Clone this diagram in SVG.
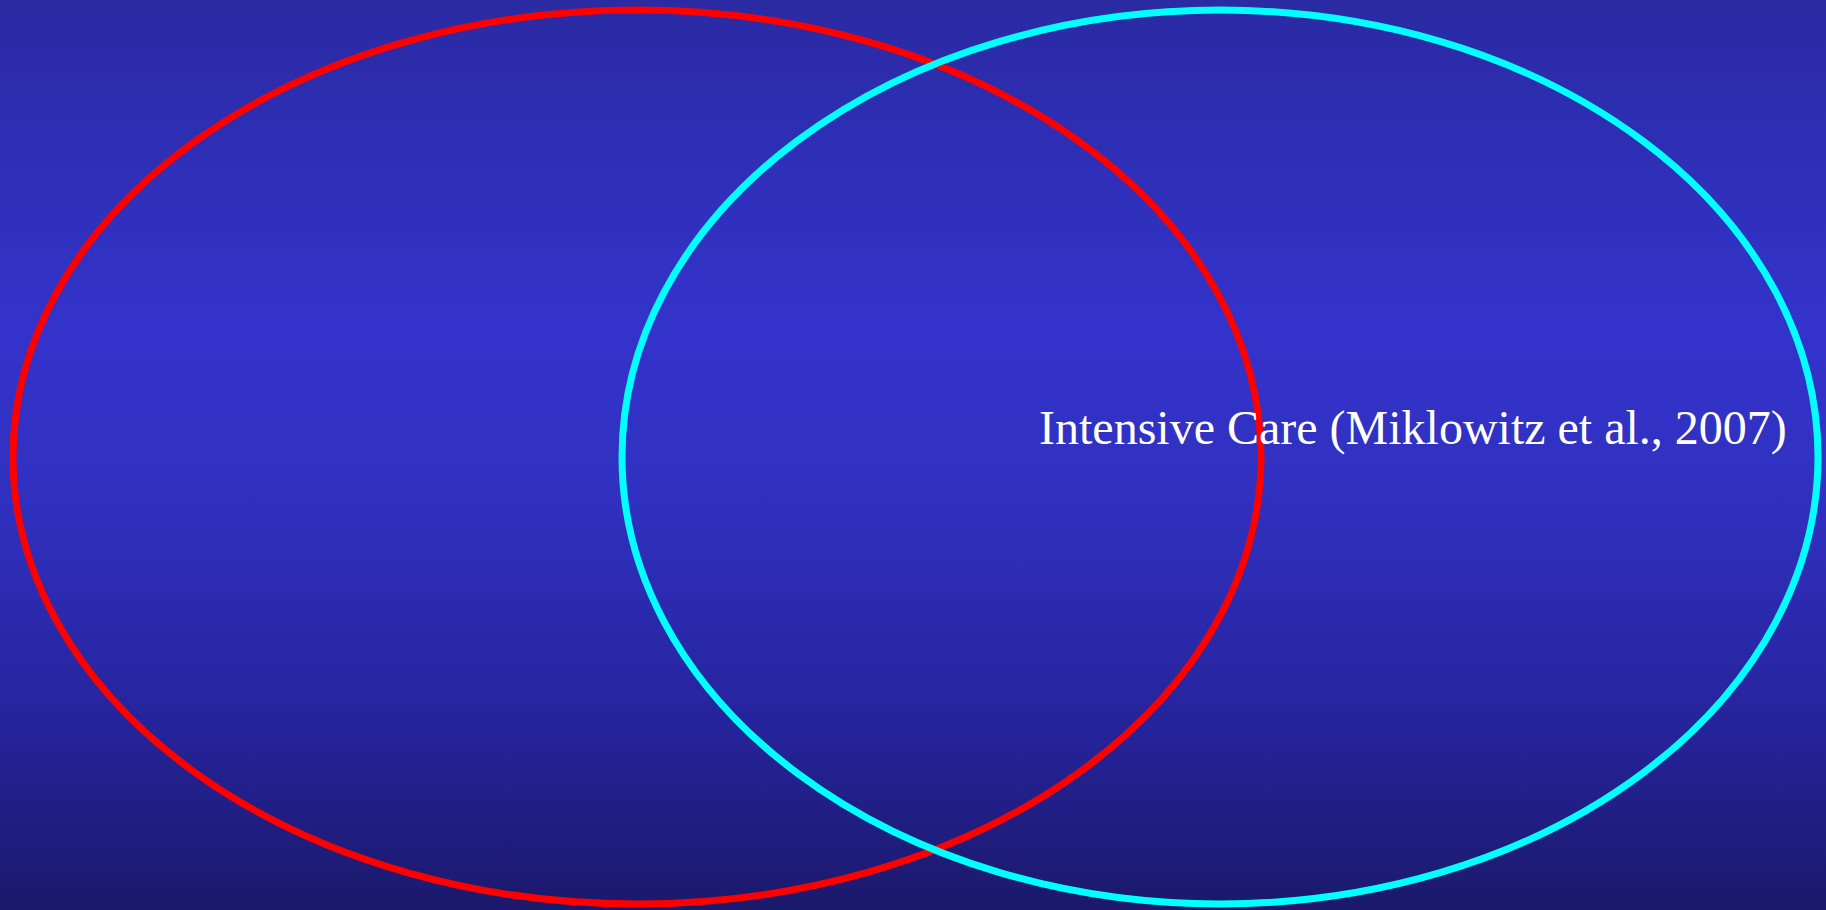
<svg xmlns="http://www.w3.org/2000/svg" width="1826" height="910" viewBox="0 0 1826 910">
  <defs>
    <linearGradient id="bg" x1="0" y1="0" x2="0" y2="1">
      <stop offset="0" stop-color="#2a2aa3"/>
      <stop offset="0.36" stop-color="#3333cc"/>
      <stop offset="0.55" stop-color="#3030c0"/>
      <stop offset="0.8" stop-color="#25239a"/>
      <stop offset="1" stop-color="#1b196b"/>
    </linearGradient>
  </defs>
  <style>
    .ring { fill: none; stroke-width: 7; }
    .label { font-family: "Liberation Serif", "Times New Roman", serif; font-size: 48px; fill: #ffffff; }
  </style>
  <rect x="0" y="0" width="1826" height="910" fill="url(#bg)"/>
  <g id="red-set">
    <ellipse class="ring" cx="637" cy="457" rx="624" ry="447" stroke="#ff0000"/>
  </g>
  <g id="cyan-set">
    <ellipse class="ring" cx="1220" cy="457" rx="598" ry="447" stroke="#00ffff"/>
    <text class="label" x="1039" y="444">Intensive Care (Miklowitz et al., 2007)</text>
  </g>
  <g id="connectors"/>
</svg>
